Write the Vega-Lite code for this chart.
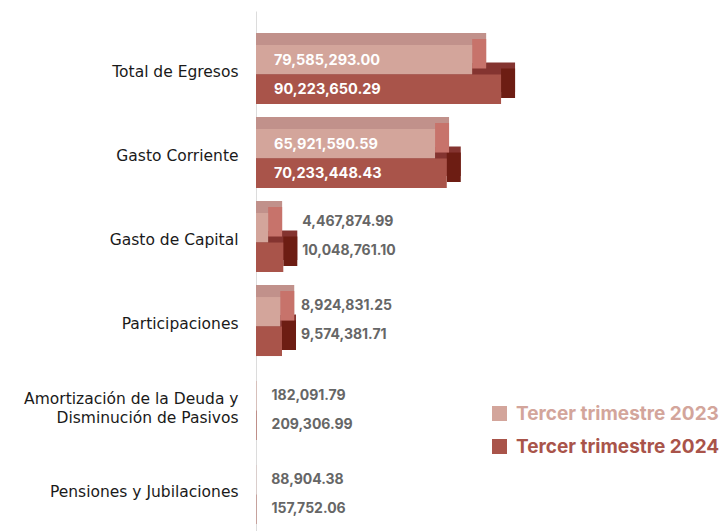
{
  "$schema": "https://vega.github.io/schema/vega-lite/v6.json",
  "autosize": {"type": "none"},
  "padding": {"left": 256, "top": 11, "right": 0, "bottom": 0},
  "width": 468,
  "height": 520,
  "background": "white",
  "config": {"view": {"stroke": null}, "font": "Inter"},
  "data": {"values": [
    {"categoria": "Total de Egresos", "periodo": "Tercer trimestre 2023", "valor": 79585293.00, "texto": "79,585,293.00"},
    {"categoria": "Total de Egresos", "periodo": "Tercer trimestre 2024", "valor": 90223650.29, "texto": "90,223,650.29"},
    {"categoria": "Gasto Corriente", "periodo": "Tercer trimestre 2023", "valor": 65921590.59, "texto": "65,921,590.59"},
    {"categoria": "Gasto Corriente", "periodo": "Tercer trimestre 2024", "valor": 70233448.43, "texto": "70,233,448.43"},
    {"categoria": "Gasto de Capital", "periodo": "Tercer trimestre 2023", "valor": 4467874.99, "texto": "4,467,874.99"},
    {"categoria": "Gasto de Capital", "periodo": "Tercer trimestre 2024", "valor": 10048761.10, "texto": "10,048,761.10"},
    {"categoria": "Participaciones", "periodo": "Tercer trimestre 2023", "valor": 8924831.25, "texto": "8,924,831.25"},
    {"categoria": "Participaciones", "periodo": "Tercer trimestre 2024", "valor": 9574381.71, "texto": "9,574,381.71"},
    {"categoria": "Amortización de la Deuda y Disminución de Pasivos", "periodo": "Tercer trimestre 2023", "valor": 182091.79, "texto": "182,091.79"},
    {"categoria": "Amortización de la Deuda y Disminución de Pasivos", "periodo": "Tercer trimestre 2024", "valor": 209306.99, "texto": "209,306.99"},
    {"categoria": "Pensiones y Jubilaciones", "periodo": "Tercer trimestre 2023", "valor": 88904.38, "texto": "88,904.38"},
    {"categoria": "Pensiones y Jubilaciones", "periodo": "Tercer trimestre 2024", "valor": 157752.06, "texto": "157,752.06"}
  ]},
  "transform": [
    {"joinaggregate": [{"op": "max", "field": "valor", "as": "maxgrupo"}], "groupby": ["categoria"]}
  ],
  "encoding": {
    "y": {
      "field": "categoria", "type": "nominal", "sort": null,
      "scale": {"paddingInner": 0.298, "paddingOuter": 0.244, "align": 0.83},
      "axis": {
        "title": null, "domainColor": "#dcdcdc", "domainWidth": 1, "ticks": false,
        "labelFont": "DejaVu Sans", "labelFontSize": 15.5, "labelColor": "#1a1a1a", "labelPadding": 18,
        "labelOffset": {"condition": {"test": "datum.value == 'Amortización de la Deuda y Disminución de Pasivos'", "value": -12}, "value": -3},
        "labelLineHeight": 19, "labelLimit": 300,
        "labelExpr": "datum.value == 'Amortización de la Deuda y Disminución de Pasivos' ? ['Amortización de la Deuda y', 'Disminución de Pasivos'] : datum.value"
      }
    }
  },
  "layer": [
    {
      "transform": [{"filter": "datum.periodo == 'Tercer trimestre 2024' && datum.valor > 1000000"}],
      "mark": {"type": "bar", "color": "#843430", "height": 29.5, "xOffset": 14, "yOffset": 2.75},
      "encoding": {"x": {"field": "valor", "type": "quantitative", "scale": {"domain": [0, 172300000], "nice": false}, "axis": null}, "x2": {"datum": 0}}
    },
    {
      "transform": [{"filter": "datum.periodo == 'Tercer trimestre 2024' && datum.valor > 1000000"}],
      "mark": {"type": "bar", "color": "#6d1d13", "height": 29.5, "xOffset": 14, "yOffset": 8.75},
      "encoding": {"x": {"field": "valor", "type": "quantitative"}, "x2": {"field": "valor"}}
    },
    {
      "transform": [{"filter": "datum.periodo == 'Tercer trimestre 2023' && datum.valor > 1000000"}],
      "mark": {"type": "bar", "color": "#c1918b", "height": 29.5, "xOffset": 14, "yOffset": -26.75},
      "encoding": {"x": {"field": "valor", "type": "quantitative"}, "x2": {"datum": 0}}
    },
    {
      "transform": [{"filter": "datum.periodo == 'Tercer trimestre 2023' && datum.valor > 1000000"}],
      "mark": {"type": "bar", "color": "#c7736b", "height": 29.5, "xOffset": 14, "yOffset": -20.75},
      "encoding": {"x": {"field": "valor", "type": "quantitative"}, "x2": {"field": "valor"}}
    },
    {
      "transform": [{"filter": "datum.periodo == 'Tercer trimestre 2023'"}],
      "mark": {"type": "bar", "height": 29.5, "yOffset": -14.75},
      "encoding": {
        "x": {"field": "valor", "type": "quantitative"},
        "x2": {"datum": 0},
        "color": {
          "field": "periodo", "type": "nominal",
          "scale": {"domain": ["Tercer trimestre 2023", "Tercer trimestre 2024"], "range": ["#d3a59b", "#a9544a"]},
          "legend": {
            "title": null, "orient": "none", "legendX": 234, "legendY": 393,
            "symbolType": "square", "symbolSize": 225, "symbolStrokeWidth": 0,
            "labelFontSize": 19, "labelFontWeight": "bold", "labelOffset": 7, "rowPadding": 13,
            "labelLimit": 300,
            "labelFont": "Inter",
            "encode": {"labels": {"update": {"fill": {"signal": "datum.value == 'Tercer trimestre 2023' ? '#d3a59b' : '#a9544a'"}}}}
          }
        }
      }
    },
    {
      "transform": [{"filter": "datum.periodo == 'Tercer trimestre 2024'"}],
      "mark": {"type": "bar", "height": 29.5, "yOffset": 14.75},
      "encoding": {
        "x": {"field": "valor", "type": "quantitative"},
        "x2": {"datum": 0},
        "color": {"field": "periodo", "type": "nominal"}
      }
    },
    {
      "transform": [{"filter": "datum.valor > 50000000 && datum.periodo == 'Tercer trimestre 2023'"}],
      "mark": {"type": "text", "align": "left", "baseline": "middle", "dx": 18, "dy": -13.5, "color": "white", "fontSize": 14.5, "fontWeight": "bold"},
      "encoding": {"x": {"datum": 0}, "text": {"field": "texto"}}
    },
    {
      "transform": [{"filter": "datum.valor > 50000000 && datum.periodo == 'Tercer trimestre 2024'"}],
      "mark": {"type": "text", "align": "left", "baseline": "middle", "dx": 18, "dy": 15.5, "color": "white", "fontSize": 14.5, "fontWeight": "bold"},
      "encoding": {"x": {"datum": 0}, "text": {"field": "texto"}}
    },
    {
      "transform": [{"filter": "datum.valor > 1000000 && datum.valor <= 50000000 && datum.periodo == 'Tercer trimestre 2023'"}],
      "mark": {"type": "text", "align": "left", "baseline": "middle", "dx": 19, "dy": -20.75, "color": "#666666", "fontSize": 14, "fontWeight": "bold"},
      "encoding": {"x": {"field": "maxgrupo", "type": "quantitative"}, "text": {"field": "texto"}}
    },
    {
      "transform": [{"filter": "datum.valor > 1000000 && datum.valor <= 50000000 && datum.periodo == 'Tercer trimestre 2024'"}],
      "mark": {"type": "text", "align": "left", "baseline": "middle", "dx": 19, "dy": 8.25, "color": "#666666", "fontSize": 14, "fontWeight": "bold"},
      "encoding": {"x": {"field": "maxgrupo", "type": "quantitative"}, "text": {"field": "texto"}}
    },
    {
      "transform": [{"filter": "datum.valor <= 1000000 && datum.periodo == 'Tercer trimestre 2023'"}],
      "mark": {"type": "text", "align": "left", "baseline": "middle", "dx": 15, "dy": -14.75, "color": "#666666", "fontSize": 14, "fontWeight": "bold"},
      "encoding": {"x": {"field": "valor", "type": "quantitative"}, "text": {"field": "texto"}}
    },
    {
      "transform": [{"filter": "datum.valor <= 1000000 && datum.periodo == 'Tercer trimestre 2024'"}],
      "mark": {"type": "text", "align": "left", "baseline": "middle", "dx": 15, "dy": 14.75, "color": "#666666", "fontSize": 14, "fontWeight": "bold"},
      "encoding": {"x": {"field": "valor", "type": "quantitative"}, "text": {"field": "texto"}}
    }
  ]
}
